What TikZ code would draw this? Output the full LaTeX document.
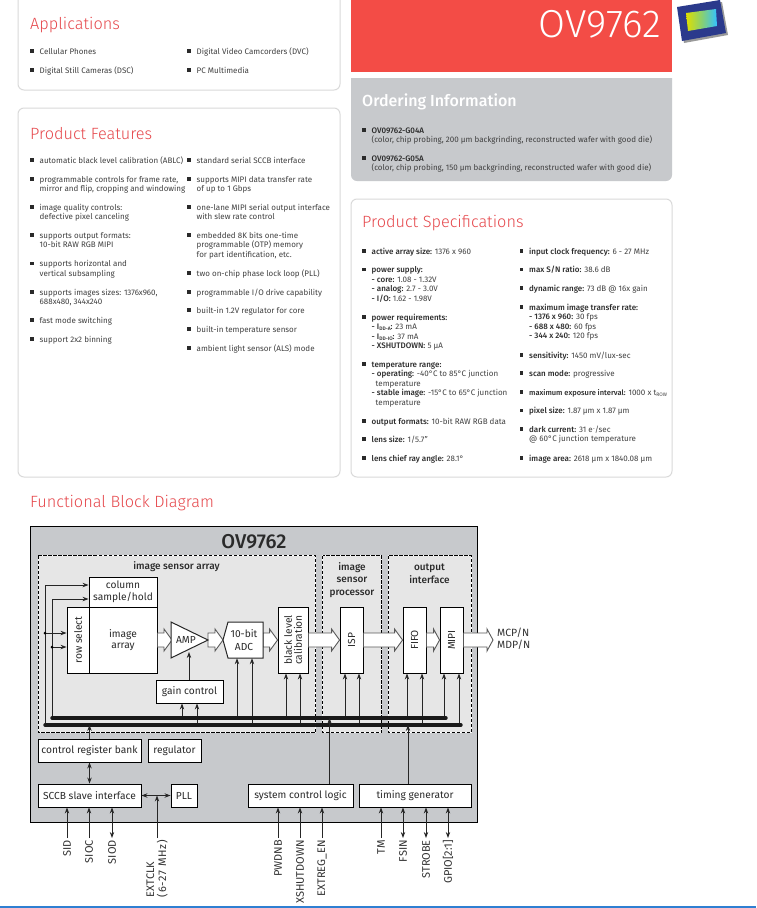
\documentclass[tikz,border=0pt]{standalone}
\usepackage{fontspec}
\usepackage{graphicx}
\setmainfont{Fira Sans}
\newfontfamily\ttlfont{Fira Sans Light}
\newfontfamily\medfont{Fira Sans Medium}
\usetikzlibrary{arrows.meta,calc}
\definecolor{ttl}{HTML}{E6474B}
\definecolor{redbox}{HTML}{F34C46}
\definecolor{greybox}{HTML}{C7C9CC}
\definecolor{cardline}{HTML}{DADADA}
\definecolor{bodytxt}{HTML}{404040}
\definecolor{boldtxt}{HTML}{2A2A2A}
\definecolor{inner}{HTML}{E6E6E6}
\definecolor{blueline}{HTML}{2F7FD2}
\definecolor{chipblue}{HTML}{2B3A8C}
\newcommand{\bb}[1]{{\medfont\color{boldtxt}#1}}
\newcommand{\sbx}[1]{\lower1pt\hbox{\fontsize{5}{5}\selectfont #1}}
\newcommand{\itm}[4]{% name, bullet x, y, text
  \fill[boldtxt] (#2,#3-1.8) rectangle +(3.6,3.6);
  \node[itemtxt] (#1) at (#2+9.5,#3-4.4) {\rule{0pt}{7.5pt}#4};}
\newcommand{\barr}[3]{% start, end, head length
  \draw[barrow] ($(#1)+(0,-7)$) -- ($(#2)+(-#3,-7)$) -- ($(#2)+(-#3,-11)$) -- (#2)
     -- ($(#2)+(-#3,11)$) -- ($(#2)+(-#3,7)$) -- ($(#1)+(0,7)$) -- cycle;}
\tikzset{
  x=1pt,y=-1pt,
  card/.style={draw=cardline,line width=1pt,fill=white,rounded corners=6pt},
  itemtxt/.style={anchor=north west,inner sep=0pt,align=left,text=bodytxt,font=\fontsize{8}{9.45}\selectfont},
  ttltxt/.style={anchor=west,inner sep=0pt,text=ttl,font=\ttlfont\fontsize{16.3}{20}\selectfont},
  blk/.style={draw=black,line width=0.9pt,fill=white,inner sep=0pt,align=center,text=boldtxt,font=\fontsize{10.2}{11.5}\selectfont},
  plain/.style={inner sep=0pt,align=center,text=boldtxt,font=\fontsize{10.2}{12.5}\selectfont},
  hdr/.style={inner sep=0pt,align=center,text=boldtxt,font=\medfont\fontsize{10}{12.6}\selectfont},
  dbox/.style={fill=inner,draw=white,line width=0.8pt},
  dline/.style={draw=black,line width=0.8pt,dash pattern=on 3.5pt off 1.5pt},
  sig/.style={draw=black!85,line width=0.8pt,-{Stealth[length=6pt,width=4.4pt]}},
  dsig/.style={draw=black!85,line width=0.8pt,{Stealth[length=6pt,width=4.4pt]}-{Stealth[length=6pt,width=4.4pt]}},
  bus/.style={draw=black!90,line width=3.4pt,line cap=round},
  barrow/.style={draw=black!65,line width=0.9pt,fill=white,line join=miter},
  pin/.style={rotate=90,anchor=east,inner sep=2pt,align=center,text=black!80,font=\fontsize{11}{12}\selectfont},
}
\begin{document}
\begin{tikzpicture}
\useasboundingbox (0,0) rectangle (756,908);
\fill[white] (0,0) rectangle (756,908);
% ---- cards
\path[card] (18,-8) rectangle (340,90);
\path[card] (18,108) rectangle (340,477);
\path[card] (351,199) rectangle (672,477);
\fill[greybox] (351,78) -- (672,78) [rounded corners=6pt] -- (672,181) -- (351,181) [sharp corners] -- cycle;
\fill[redbox] (351,0) rectangle (672,72);
\node[anchor=east,inner sep=0pt,text=white,font=\ttlfont\fontsize{39}{42}\selectfont] (ovtop) at (661,24) {OV9762};
% ---- chip picture
\fill[black!40] (679,9) -- (722,2) -- (728,35) -- (684,43) -- cycle;
\fill[chipblue] (677,7) -- (720,0) -- (726,33) -- (682,41) -- cycle;
\shade[left color=yellow!75!olive,right color=cyan!70!blue!80] (686,13) -- (716,9) -- (717,26) -- (688,31) -- cycle;
% ---- applications
\node[ttltxt] (tapp) at (30,25.5) {Applications};
\itm{a1}{30}{51}{Cellular Phones}
\itm{a2}{30}{70}{Digital Still Cameras (DSC)}
\itm{a3}{187}{51}{Digital Video Camcorders (DVC)}
\itm{a4}{187}{70}{PC Multimedia}
% ---- features
\node[ttltxt] (tfea) at (30,133.5) {Product Features};
\itm{f1}{30}{160}{automatic black level calibration (ABLC)}
\itm{f2}{30}{179}{programmable controls for frame rate,\\mirror and flip, cropping and windowing}
\itm{f3}{30}{207}{image quality controls:\\defective pixel canceling}
\itm{f4}{30}{235}{supports output formats:\\10-bit RAW RGB MIPI}
\itm{f5}{30}{263.5}{supports horizontal and\\vertical subsampling}
\itm{f6}{30}{292}{supports images sizes: 1376x960,\\688x480, 344x240}
\itm{f7}{30}{320}{fast mode switching}
\itm{f8}{30}{339}{support 2x2 binning}
\itm{g1}{187}{160}{standard serial SCCB interface}
\itm{g2}{187}{179}{supports MIPI data transfer rate\\of up to 1 Gbps}
\itm{g3}{187}{207}{one-lane MIPI serial output interface\\with slew rate control}
\itm{g4}{187}{235}{embedded 8K bits one-time\\programmable (OTP) memory\\for part identification, etc.}
\itm{g5}{187}{273}{two on-chip phase lock loop (PLL)}
\itm{g6}{187}{292}{programmable I/O drive capability}
\itm{g7}{187}{310}{built-in 1.2V regulator for core}
\itm{g8}{187}{329}{built-in temperature sensor}
\itm{g9}{187}{348}{ambient light sensor (ALS) mode}
% ---- ordering
\node[anchor=west,inner sep=0pt,text=white,font=\medfont\fontsize{16}{18}\selectfont] (tord) at (362,102) {Ordering Information};
\itm{o1}{362}{130}{\bb{OV09762-G04A}\\(color, chip probing, 200 µm backgrinding, reconstructed wafer with good die)}
\itm{o2}{362}{158}{\bb{OV09762-G05A}\\(color, chip probing, 150 µm backgrinding, reconstructed wafer with good die)}
% ---- specifications
\node[ttltxt] (tspc) at (362,223.5) {Product Specifications};
\itm{s1}{362}{251}{\bb{active array size:} 1376 x 960}
\itm{s2}{362}{269.5}{\bb{power supply:}\\\bb{- core:} 1.08 - 1.32V\\\bb{- analog:} 2.7 - 3.0V\\\bb{- I/O:} 1.62 - 1.98V}
\itm{s3}{362}{317}{\bb{power requirements:}\\\bb{- I\sbx{DD-A}:} 23 mA\\\bb{- I\sbx{DD-IO}:} 37 mA\\\bb{- XSHUTDOWN:} 5 µA}
\itm{s4}{362}{364}{\bb{temperature range:}\\\bb{- operating:} -40°C to 85°C junction\\\hspace*{4pt}temperature\\\bb{- stable image:} -15°C to 65°C junction\\\hspace*{4pt}temperature}
\itm{s5}{362}{421}{\bb{output formats:} 10-bit RAW RGB data}
\itm{s6}{362}{439}{\bb{lens size:} 1/5.7"}
\itm{s7}{362}{458}{\bb{lens chief ray angle:} 28.1°}
\itm{r1}{519.5}{251}{\bb{input clock frequency:} 6 - 27 MHz}
\itm{r2}{519.5}{269.5}{\bb{max S/N ratio:} 38.6 dB}
\itm{r3}{519.5}{288}{\bb{dynamic range:} 73 dB @ 16x gain}
\itm{r4}{519.5}{307}{\bb{maximum image transfer rate:}\\\bb{- 1376 x 960:} 30 fps\\\bb{- 688 x 480:} 60 fps\\\bb{- 344 x 240:} 120 fps}
\itm{r5}{519.5}{355}{\bb{sensitivity:} 1450 mV/lux-sec}
\itm{r6}{519.5}{373}{\bb{scan mode:} progressive}
\itm{r7}{519.5}{392}{{\fontsize{7.5}{9}\selectfont\bb{maximum exposure interval:}} 1000 x t\sbx{ROW}}
\itm{r8}{519.5}{410.5}{\bb{pixel size:} 1.87 µm x 1.87 µm}
\itm{r9}{519.5}{429}{\bb{dark current:} 31 e\raisebox{2pt}{\fontsize{5}{5}\selectfont -}/sec\\@ 60°C junction temperature}
\itm{r10}{519.5}{458}{\bb{image area:} 2618 µm x 1840.08 µm}
% ---- block diagram
\node[ttltxt] (tfbd) at (30,503) {Functional Block Diagram};
\draw[draw=black,line width=0.8pt,fill=greybox] (30,526) rectangle (477,822);
\node[inner sep=0pt,text=boldtxt,font=\medfont\fontsize{20}{22}\selectfont] (ovchip) at (254,541.5) {OV9762};
\foreach \xa/\xb in {38/315.5,322.5/381.5,388.5/471}{
  \path[dbox] (\xa,555.5) rectangle (\xb,732.5);
  \path[dline] (\xa,555.5) rectangle (\xb,732.5);
}
\node[hdr] (hisa) at (176.5,567) {image sensor array};
\node[hdr] (hisp) at (352,580) {image\\sensor\\processor};
\node[hdr] (hout) at (429.5,573.5) {output\\interface};
% bus end points
\coordinate (ua) at (52,718);
\coordinate (ub) at (446,718);
\coordinate (la) at (45,725);
\coordinate (lb) at (461,725);
% blocks
\node[blk,minimum width=68pt,minimum height=30pt] (col) at (123,592) {column\\sample/hold};
\node[blk,minimum width=22pt,minimum height=66pt] (row) at (78,640) {\rotatebox{90}{row select}};
\node[blk,minimum width=68pt,minimum height=66pt] (img) at (123,640) {image\\array};
\node[blk,minimum width=67pt,minimum height=23pt] (gain) at (189.5,691.5) {gain control};
\node[blk,minimum width=30pt,minimum height=66pt] (black) at (293,640) {\rotatebox{90}{\parbox{60pt}{\centering black level\\[-1.5pt]calibration}}};
\node[blk,minimum width=23pt,minimum height=66pt] (isp) at (351.5,640) {\rotatebox{90}{ISP}};
\node[blk,minimum width=23pt,minimum height=66pt] (fifo) at (414.5,640) {\rotatebox{90}{FIFO}};
\node[blk,minimum width=23pt,minimum height=66pt] (mipi) at (451.5,640) {\rotatebox{90}{MIPI}};
\node[blk,minimum width=103pt,minimum height=23pt] (crb) at (89.5,750.5) {control register bank};
\node[blk,minimum width=53pt,minimum height=23pt] (reg) at (174.5,750.5) {regulator};
\node[blk,minimum width=103pt,minimum height=23pt] (sccb) at (89.5,795.5) {SCCB slave interface};
\node[blk,minimum width=26pt,minimum height=23pt] (pll) at (184,795.5) {PLL};
\node[blk,minimum width=105pt,minimum height=23pt] (scl) at (300.5,795.5) {system control logic};
\node[blk,minimum width=112pt,minimum height=23pt] (tgen) at (415,795.5) {timing generator};
\coordinate (ampL) at (171,640);
\coordinate (ampT) at (208,640);
\coordinate (ampB) at (189,652);
\coordinate (adcL) at (223,640);
\coordinate (adcR) at (263,640);
\coordinate (outE) at (493,640);
% block arrows
\barr{img.east}{172,640}{8}
\barr{ampT}{adcL}{8}
\barr{adcR}{black.west}{8}
\barr{black.east}{isp.west}{8}
\barr{isp.east}{fifo.west}{8}
\barr{fifo.east}{mipi.west}{6}
\barr{mipi.east}{outE}{6}
% amp and adc outlines
\draw[line width=1pt,draw=black!85,fill=white,line join=miter] (171,622) -- (171,658) -- (ampT) -- cycle;
\node[plain] (amp) at (186,640) {AMP};
\draw[line width=1pt,draw=black!85,fill=white,line join=miter] (228,622) -- (263,622) -- (263,658) -- (228,658) -- (adcL) -- cycle;
\node[plain,minimum height=36pt] (adc) at (244,640) {10-bit\\ADC};
% vertical signals from buses
\foreach \x/\b/\n in {182/ua/gain,197/la/gain,237/ua/adc,252/la/adc,286/ua/black,300/la/black,345/ua/isp,359/la/isp,407/ua/fifo,422/la/fifo,444/ua/mipi,459/la/mipi}{
  \draw[sig] (\x,0 |- \b) -- (\x,0 |- \n.south);
}
\draw[sig] (gain.north -| ampB) -- (ampB);
% left feeds
\draw[sig] (la) -- (45,585) -- (45,585 -| col.west);
\draw[sig] (ua) -- (52,599) -- (52,599 -| col.west);
\coordinate (d1) at (45,633);
\coordinate (d2) at (52,647);
\draw[sig] (d1) -- (d1 -| row.west);
\draw[sig] (d2) -- (d2 -| row.west);
\fill[black] (d1) circle (1.5pt) (d2) circle (1.5pt);
% buses
\draw[bus] (ua) -- (ub);
\draw[bus] (la) -- (lb);
% lower signals
\draw[sig] (crb.north) -- (crb.north |- la);
\draw[dsig] (crb.south) -- (sccb.north);
\draw[dsig] (sccb.east) -- (pll.west);
\coordinate (sclup) at (329.5,784);
\coordinate (tgup) at (408,784);
\draw[sig] (sclup) -- (sclup |- ua);
\draw[sig] (tgup) -- (tgup |- la);
% outputs
\node[anchor=west,inner sep=0pt,text=black!80,font=\fontsize{10.5}{12}\selectfont,align=left] (outlbl) at (497,639) {MCP/N\\MDP/N};
% pins
\foreach \n/\x/\t/\b/\s in {sid/67/SID/sccb/sig,sioc/89/SIOC/sccb/sig,siod/112/SIOD/sccb/dsig,
  pwd/278/PWDNB/scl/sig,xsd/300/XSHUTDOWN/scl/sig,ext/322/EXTREG\_EN/scl/sig,
  tm/381/TM/tgen/sig,fsin/403/FSIN/tgen/dsig,strb/426/STROBE/tgen/dsig,gpio/448/GPIO[2:1]/tgen/dsig}{
  \node[pin] (\n) at (\x,838) {\t};
  \draw[\s] (\n.east) -- (\n.east |- \b.south);
}
\node[pin,align=left] (clk) at (157,838) {EXTCLK\\{\addfontfeature{LetterSpace=7}(6-27 MHz)}};
\draw[sig] (clk.east) -- (clk.east |- sccb.east);
% bottom rule
\fill[blueline] (0,905.7) rectangle (756,908);
\end{tikzpicture}
\end{document}
